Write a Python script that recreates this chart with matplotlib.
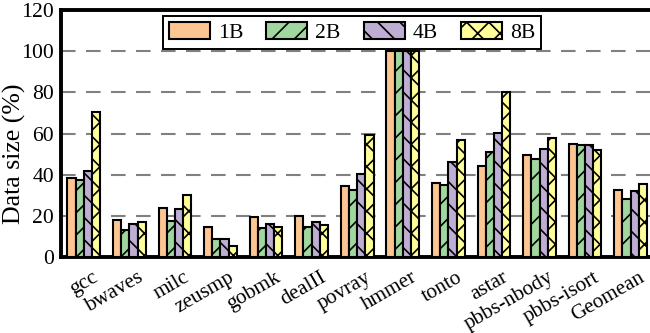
import numpy as np
import matplotlib
matplotlib.use("Agg")
import matplotlib.pyplot as plt
from matplotlib.transforms import ScaledTranslation

benchmarks = ["gcc", "bwaves", "milc", "zeusmp", "gobmk", "dealII", "povray",
              "hmmer", "tonto", "astar", "pbbs-nbody", "pbbs-isort", "Geomean"]
series = ["1B", "2B", "4B", "8B"]

vals_1b = [38.3, 18.0, 23.7, 14.8, 19.6, 20.0, 34.4, 99.9, 35.9, 44.3, 49.6, 55.0, 32.6]
vals_2b = [37.5, 13.1, 17.7, 8.9, 14.1, 14.6, 32.6, 99.9, 35.0, 51.0, 47.7, 54.4, 28.0]
vals_4b = [42.0, 16.0, 23.2, 8.9, 16.0, 16.9, 40.4, 99.9, 46.4, 60.2, 52.4, 54.4, 32.1]
vals_8b = [70.4, 17.2, 30.3, 5.4, 14.6, 15.6, 59.4, 99.9, 57.0, 80.1, 58.0, 52.2, 35.4]

colores = ["#fdc591", "#9fd79f", "#beaed4", "#ffff99"]
tramas = ["", "///", "\\\\\\", "xxx"]

plt.rcParams["font.family"] = ["Liberation Serif", "DejaVu Serif"]
plt.rcParams["hatch.linewidth"] = 0.6
plt.rcParams["hatch.color"] = "black"

fig = plt.figure(figsize=(3.25, 1.665), dpi=200)
ax = fig.add_axes([0.0938, 0.2282, 0.9115, 0.7417])

x = np.arange(len(benchmarks))
ancho = 0.18
datos = [vals_1b, vals_2b, vals_4b, vals_8b]
for i, (nombre, v) in enumerate(zip(series, datos)):
    ax.bar(x + (i - 1.5) * ancho, v, ancho, color=colores[i], hatch=tramas[i],
           edgecolor="black", linewidth=0.75, label=nombre, zorder=3)

ax.set_xlim(-0.5, len(benchmarks) - 0.5)
ax.set_ylim(0, 120)
ax.set_yticks(range(0, 121, 20))
ax.yaxis.grid(True, linestyle=(0, (7, 5)), linewidth=0.75, color="gray", zorder=0)
ax.set_axisbelow(True)

ax.set_xticks(x)
ax.set_xticklabels(benchmarks, rotation=30, ha="right", va="top",
                   rotation_mode="anchor", fontsize=7.6)
ax.tick_params(axis="x", length=0, pad=4)
ax.tick_params(axis="y", length=0, pad=2.5, labelsize=7.8)
ax.set_ylabel("Data size (%)", fontsize=9.3)
ax.yaxis.set_label_coords(-0.059, 0.417)

for s in ax.spines.values():
    s.set_linewidth(1.4)

leg = ax.legend(loc="upper left", bbox_to_anchor=(0.172, 0.976), ncol=4,
                fontsize=7.8, frameon=True, fancybox=False, borderaxespad=0,
                handlelength=1.9, handleheight=0.83, handletextpad=0.37,
                columnspacing=1.06, borderpad=0.27)
leg.get_frame().set_edgecolor("black")
leg.get_frame().set_linewidth(0.7)
leg.get_frame().set_alpha(1)

# desplazar etiquetas del eje x un poco a la derecha
desplaza = ScaledTranslation(0.04, 0, fig.dpi_scale_trans)
for lab in ax.get_xticklabels():
    lab.set_transform(lab.get_transform() + desplaza)

fig.savefig("out.png", dpi=200)
